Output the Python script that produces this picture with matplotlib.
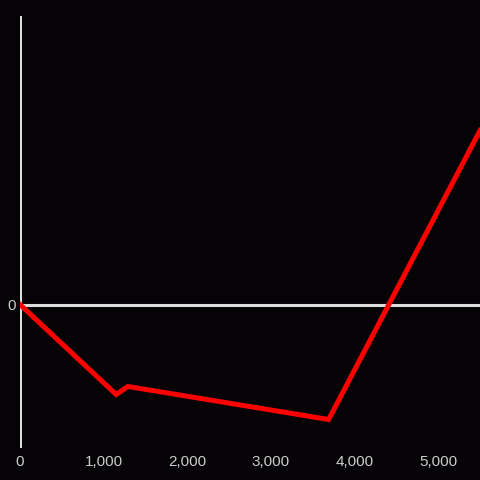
import numpy as np
import matplotlib.pyplot as plt

plt.rcParams['font.family'] = ['Liberation Sans', 'DejaVu Sans']

# data
xs = [0, 1150, 1290, 3690, 5500]
ys = [0, -90, -82, -115, 174]
xticks = [0, 1000, 2000, 3000, 4000, 5000]

bg = '#050306'
fig = plt.figure(figsize=(4.8, 4.8), dpi=100, facecolor=bg)
ax = fig.add_axes([20 / 480, 32 / 480, 460 / 480, 432 / 480], facecolor=bg)

# zero lines as axes
ax.axhline(0, color='#dcdcdc', lw=2.2, zorder=1)
ax.axvline(0, color='#dcdcdc', lw=2.2, zorder=1)

ax.plot(xs, ys, color='#ff0000', lw=3.6, zorder=3, solid_joinstyle='miter')

ax.set_xlim(0, 5500)
ax.set_ylim(-143.5, 288.5)

for s in ax.spines.values():
    s.set_visible(False)

ax.set_xticks(xticks)
ax.set_xticklabels([f'{v:,}' for v in xticks])
ax.set_yticks([0])
ax.set_yticklabels(['0'])
ax.tick_params(length=0, colors='#cccccc', labelsize=11)
ax.tick_params(axis='x', pad=5)
ax.tick_params(axis='y', pad=3)

fig.savefig('out.png', dpi=100, facecolor=bg)
